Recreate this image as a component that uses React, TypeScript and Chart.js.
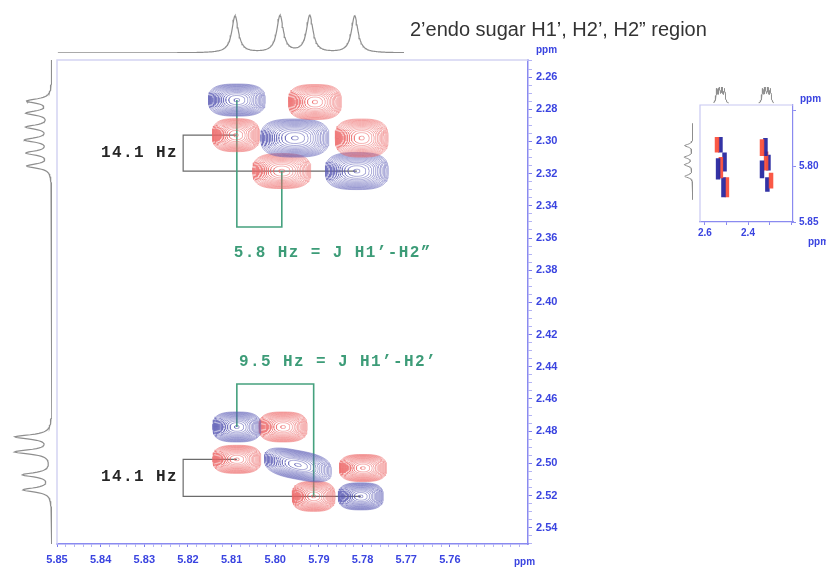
import { useEffect, useRef } from 'react';
import { Chart, registerables } from 'chart.js';

Chart.register(...registerables);

// ---------- main 2D spectrum (H1' along x, H2'/H2'' along y) ----------
const X_MIN = 5.7421;
const X_MAX = 5.85;
const Y_MIN = 2.2494;
const Y_MAX = 2.5501;

const X_TICKS = [5.85, 5.84, 5.83, 5.82, 5.81, 5.8, 5.79, 5.78, 5.77, 5.76];
const Y_TICKS = [2.26, 2.28, 2.3, 2.32, 2.34, 2.36, 2.38, 2.4, 2.42, 2.44, 2.46, 2.48, 2.5, 2.52, 2.54];

// cross peaks: centre (ppm), full width / height (ppm), phase sign, shear
const PEAK_X = [5.8088, 5.7909, 5.809, 5.7955, 5.7802, 5.7985, 5.7813, 5.8088, 5.7982, 5.8088, 5.7948, 5.7799, 5.7912, 5.7804];
const PEAK_Y = [2.2743, 2.2755, 2.2961, 2.2979, 2.2979, 2.3184, 2.3184, 2.4774, 2.4774, 2.4975, 2.501, 2.5029, 2.5205, 2.5205];
const PEAK_W = [0.013, 0.0121, 0.0108, 0.0156, 0.0121, 0.0133, 0.0144, 0.011, 0.011, 0.011, 0.0153, 0.0108, 0.0098, 0.0103];
const PEAK_H = [0.0199, 0.0217, 0.0205, 0.0236, 0.0236, 0.0217, 0.023, 0.0186, 0.0186, 0.0174, 0.018, 0.0168, 0.0186, 0.0168];
const PEAK_SIGN = [-1, 1, 1, -1, 1, 1, -1, -1, 1, 1, -1, 1, 1, -1];
const PEAK_SKEW = [0, 0, 0, 0, 0, 0, 0, 0, 0, 0, 0.5, 0, 0, 0];

// coupling brackets: [from peak, to peak]
const GREEN_LINKS = [[0, 5], [7, 12]];
const GREEN_TURN_Y = [2.3532, 2.4507];
const GRAY_LINKS = [[2, 6], [9, 13]];
const GRAY_TURN_X = 5.8211;

const NOTE_TEXT = ['14.1 Hz', '14.1 Hz', '5.8 Hz = J H1\u2019-H2\u201d', '9.5 Hz = J H1\u2019-H2\u2019'];
const NOTE_X = [5.8399, 5.8399, 5.8095, 5.8083];
const NOTE_Y = [2.3072, 2.5084, 2.3693, 2.437];
const NOTE_COLOR = ['#262626', '#262626', '#3d9c78', '#3d9c78'];

// 1D projections
const TOP_PEAK_PPM = [5.8092, 5.7989, 5.7921, 5.7818];
const TOP_PEAK_INT = [0.9, 0.9, 0.9, 0.9];
const TOP_RANGE = [5.7705, 5.8498];

const LEFT_PEAK_PPM = [2.2749, 2.2824, 2.2911, 2.2991, 2.3072, 2.3153, 2.4836, 2.4929, 2.5071, 2.5165];
const LEFT_PEAK_INT = [0.55, 0.55, 0.55, 0.58, 0.55, 0.55, 0.82, 0.82, 0.64, 0.64];

// ---------- inset (transposed view) ----------
const INSET_X_MIN = 2.191;
const INSET_X_MAX = 2.623;
const INSET_Y_MIN = 5.7455;
const INSET_Y_MAX = 5.85;
const INSET_X_TICKS = [2.6, 2.5, 2.4, 2.3, 2.2];
const INSET_X_LABELS = [2.6, 2.4];
const INSET_Y_TICKS = [5.75, 5.8, 5.85];
const INSET_Y_LABELS = [5.8, 5.85];

const BAR_X = [2.544, 2.528, 2.539, 2.526, 2.509, 2.514, 2.498, 2.335, 2.319, 2.335, 2.316, 2.305, 2.293, 2.31];
const BAR_Y0 = [5.774, 5.774, 5.793, 5.792, 5.788, 5.81, 5.81, 5.776, 5.775, 5.795, 5.787, 5.79, 5.806, 5.81];
const BAR_Y1 = [5.788, 5.788, 5.812, 5.811, 5.805, 5.828, 5.828, 5.791, 5.791, 5.811, 5.804, 5.804, 5.82, 5.823];
const BAR_SIGN = [1, -1, -1, 1, -1, -1, 1, 1, -1, -1, 1, -1, 1, -1];

const INSET_TOP_PPM = [2.545, 2.533, 2.521, 2.509, 2.332, 2.32, 2.308, 2.296];
const INSET_TOP_INT = [0.8, 0.9, 0.85, 0.8, 0.8, 0.9, 0.85, 0.8];
const INSET_LEFT_PPM = [5.7818, 5.7921, 5.7989, 5.8092];
const INSET_LEFT_INT = [0.8, 0.8, 0.8, 0.8];

const AXIS_BLUE = '#3a44e0';
const BLUE_LINE = 'rgba(92,92,182,0.5)';
const RED_LINE = 'rgba(238,104,104,0.5)';

// ---------- helpers ----------
function lorentz(pos: number[], amp: number[], hw: number, v: number) {
  let s = 0;
  for (let i = 0; i < pos.length; i++) {
    const d = (v - pos[i]) / hw;
    s += amp[i] / (1 + d * d);
  }
  return s;
}

function trace(pos: number[], amp: number[], hw: number, from: number, to: number, n: number, vertical: boolean) {
  const pts: { x: number; y: number }[] = [];
  for (let i = 0; i <= n; i++) {
    const v = from + ((to - from) * i) / n;
    const h = Math.min(1, lorentz(pos, amp, hw, v));
    pts.push(vertical ? { x: h, y: v } : { x: v, y: h });
  }
  return pts;
}

// one contour level of a peak, as a closed superellipse
function ring(i: number, s: number) {
  const a = PEAK_W[i] / 2;
  const b = PEAK_H[i] / 2;
  const n = 2 + s * 0.9;
  const pts: { x: number; y: number }[] = [];
  const steps = 72;
  for (let k = 0; k <= steps; k++) {
    const t = (k / steps) * Math.PI * 2;
    const c = Math.cos(t);
    const sn = Math.sin(t);
    const u = Math.sign(c) * Math.pow(Math.abs(c), 2 / n);
    const w = Math.sign(sn) * Math.pow(Math.abs(sn), 2 / n);
    const dx = u * a * s;
    const dy = w * b * s;
    pts.push({ x: PEAK_X[i] + dx, y: PEAK_Y[i] + dy - PEAK_SKEW[i] * dx });
  }
  return pts;
}

function contourDatasets() {
  const sets: any[] = [];
  const levels = 15;
  for (let i = 0; i < PEAK_X.length; i++) {
    for (let k = 0; k < levels; k++) {
      const s = Math.sqrt(1 - (k / (levels - 1)) * (1 - 0.1 * 0.1));
      sets.push({
        data: ring(i, s),
        showLine: true,
        pointRadius: 0,
        borderWidth: 1,
        borderColor: PEAK_SIGN[i] < 0 ? BLUE_LINE : RED_LINE,
        fill: false,
      });
    }
  }
  return sets;
}

function linkDatasets() {
  const sets: any[] = [];
  GREEN_LINKS.forEach(([p, q], j) => {
    sets.push({
      data: [
        { x: PEAK_X[p], y: PEAK_Y[p] },
        { x: PEAK_X[p], y: GREEN_TURN_Y[j] },
        { x: PEAK_X[q], y: GREEN_TURN_Y[j] },
        { x: PEAK_X[q], y: PEAK_Y[q] },
      ],
      showLine: true,
      pointRadius: 0,
      borderWidth: 1.6,
      borderColor: '#45a17e',
    });
  });
  GRAY_LINKS.forEach(([p, q]) => {
    sets.push({
      data: [
        { x: PEAK_X[p], y: PEAK_Y[p] },
        { x: GRAY_TURN_X, y: PEAK_Y[p] },
        { x: GRAY_TURN_X, y: PEAK_Y[q] },
        { x: PEAK_X[q], y: PEAK_Y[q] },
      ],
      showLine: true,
      pointRadius: 0,
      borderWidth: 1.2,
      borderColor: '#6b6b6b',
    });
  });
  return sets;
}

function near(list: number[], v: number) {
  return list.some((t) => Math.abs(t - v) < 1e-6);
}

function minorTicks(lo: number, hi: number, step: number) {
  const out: number[] = [];
  const start = Math.ceil(lo / step - 1e-9);
  for (let k = start; k * step <= hi + 1e-9; k++) out.push(+(k * step).toFixed(4));
  return out;
}

const tickFont = { family: 'Liberation Sans, Arial, sans-serif', size: 11, weight: 'bold' as const };

// ---------- chart configs ----------
const notesPlugin = {
  id: 'notes',
  afterDatasetsDraw(chart: any) {
    const { ctx, scales, chartArea } = chart;
    ctx.save();
    ctx.font = 'bold 16px "Liberation Mono", "Courier New", monospace';
    (ctx as any).letterSpacing = '1.4px';
    ctx.textBaseline = 'middle';
    ctx.textAlign = 'left';
    NOTE_TEXT.forEach((t, i) => {
      ctx.fillStyle = NOTE_COLOR[i];
      ctx.fillText(t, scales.x.getPixelForValue(NOTE_X[i]), scales.y.getPixelForValue(NOTE_Y[i]));
    });
    (ctx as any).letterSpacing = '0px';
    // frame: light top/left edges
    ctx.strokeStyle = '#d4d4f2';
    ctx.lineWidth = 1.5;
    ctx.beginPath();
    ctx.moveTo(chartArea.left, chartArea.bottom);
    ctx.lineTo(chartArea.left, chartArea.top);
    ctx.lineTo(chartArea.right, chartArea.top);
    ctx.stroke();
    // axis unit labels
    ctx.fillStyle = AXIS_BLUE;
    ctx.font = 'bold 10px "Liberation Sans", Arial, sans-serif';
    ctx.textBaseline = 'middle';
    ctx.fillText('ppm', chartArea.right + 8, chartArea.top - 10);
    ctx.fillText('ppm', chartArea.right - 14, chartArea.bottom + 18);
    // title
    ctx.fillStyle = '#333333';
    ctx.font = '20px "Liberation Sans", Arial, sans-serif';
    ctx.fillText('2\u2019endo sugar H1\u2019, H2\u2019, H2\u201d region', 410, 30);
    ctx.restore();
  },
};

function mainConfig(): any {
  return {
    type: 'scatter',
    data: { datasets: [...contourDatasets(), ...linkDatasets()] },
    options: {
      animation: false,
      responsive: false,
      events: [],
      layout: { padding: { left: 57, top: 60, right: 258, bottom: 0 } },
      plugins: { legend: { display: false }, tooltip: { enabled: false } },
      scales: {
        x: {
          type: 'linear',
          min: X_MIN,
          max: X_MAX,
          reverse: true,
          afterBuildTicks: (s: any) => {
            s.ticks = minorTicks(X_MIN, X_MAX, 0.002).map((v) => ({ value: v }));
          },
          afterFit: (s: any) => {
            s.height = 23;
          },
          ticks: {
            autoSkip: false,
            maxRotation: 0,
            color: AXIS_BLUE,
            font: tickFont,
            padding: 6,
            callback: (v: number) => (near(X_TICKS, v) ? v.toFixed(2) : ''),
          },
          grid: {
            drawOnChartArea: false,
            tickLength: 3,
            tickColor: (c: any) => (c.tick && near(X_TICKS, c.tick.value) ? '#7c7cee' : '#b4b4f4'),
          },
          border: { color: '#8a8af0', width: 1.5 },
        },
        y: {
          type: 'linear',
          position: 'right',
          min: Y_MIN,
          max: Y_MAX,
          reverse: true,
          afterBuildTicks: (s: any) => {
            s.ticks = minorTicks(Y_MIN, Y_MAX, 0.005).map((v) => ({ value: v }));
          },
          afterFit: (s: any) => {
            s.width = 40;
          },
          ticks: {
            autoSkip: false,
            color: AXIS_BLUE,
            font: tickFont,
            padding: 4,
            callback: (v: number) => (near(Y_TICKS, v) ? v.toFixed(2) : ''),
          },
          grid: {
            drawOnChartArea: false,
            tickLength: 4,
            tickColor: (c: any) => (c.tick && near(Y_TICKS, c.tick.value) ? '#7c7cee' : '#b4b4f4'),
          },
          border: { color: '#8a8af0', width: 1.5 },
        },
      },
    },
    plugins: [notesPlugin],
  };
}

function projectionConfig(
  datasets: { x: number; y: number }[][],
  xRange: [number, number],
  yRange: [number, number],
  xReverse: boolean,
  yReverse: boolean,
  padding: any,
  width: number
): any {
  return {
    type: 'scatter',
    data: {
      datasets: datasets.map((d) => ({
        data: d,
        showLine: true,
        pointRadius: 0,
        borderWidth: width,
        borderColor: '#8e8e8e',
      })),
    },
    options: {
      animation: false,
      responsive: false,
      events: [],
      layout: { padding },
      plugins: { legend: { display: false }, tooltip: { enabled: false } },
      scales: {
        x: { type: 'linear', display: false, min: xRange[0], max: xRange[1], reverse: xReverse },
        y: { type: 'linear', display: false, min: yRange[0], max: yRange[1], reverse: yReverse },
      },
    },
  };
}

const insetUnitsPlugin = {
  id: 'insetUnits',
  afterDraw(chart: any) {
    const { ctx, chartArea } = chart;
    ctx.save();
    ctx.strokeStyle = '#c8c8f2';
    ctx.lineWidth = 1.2;
    ctx.beginPath();
    ctx.moveTo(chartArea.left, chartArea.bottom);
    ctx.lineTo(chartArea.left, chartArea.top);
    ctx.lineTo(chartArea.right, chartArea.top);
    ctx.stroke();
    ctx.fillStyle = AXIS_BLUE;
    ctx.font = 'bold 10px "Liberation Sans", Arial, sans-serif';
    ctx.textBaseline = 'middle';
    ctx.textAlign = 'left';
    ctx.fillText('ppm', chartArea.right + 7, chartArea.top - 6);
    ctx.fillText('ppm', chartArea.right + 15, chartArea.bottom + 20);
    ctx.restore();
  },
};

function insetConfig(): any {
  return {
    type: 'scatter',
    data: {
      datasets: BAR_X.map((x, i) => ({
        data: [
          { x, y: BAR_Y0[i] },
          { x, y: BAR_Y1[i] },
        ],
        showLine: true,
        pointRadius: 0,
        borderWidth: 4.5,
        borderCapStyle: 'butt',
        borderColor: BAR_SIGN[i] > 0 ? 'rgba(250,80,60,0.95)' : 'rgba(40,40,160,0.95)',
      })),
    },
    options: {
      animation: false,
      responsive: false,
      events: [],
      layout: { padding: { left: 20, top: 35, right: 0, bottom: 0 } },
      plugins: { legend: { display: false }, tooltip: { enabled: false } },
      scales: {
        x: {
          type: 'linear',
          min: INSET_X_MIN,
          max: INSET_X_MAX,
          reverse: true,
          afterBuildTicks: (s: any) => {
            s.ticks = INSET_X_TICKS.map((v) => ({ value: v }));
          },
          afterFit: (s: any) => {
            s.height = 28;
          },
          ticks: {
            autoSkip: false,
            maxRotation: 0,
            color: AXIS_BLUE,
            font: { ...tickFont, size: 10 },
            padding: 2,
            callback: (v: number) => (near(INSET_X_LABELS, v) ? v.toFixed(1) : ''),
          },
          grid: { drawOnChartArea: false, tickLength: 3, tickColor: '#8a8af0' },
          border: { color: '#8a8af0', width: 1.2 },
        },
        y: {
          type: 'linear',
          position: 'right',
          min: INSET_Y_MIN,
          max: INSET_Y_MAX,
          reverse: true,
          afterBuildTicks: (s: any) => {
            s.ticks = INSET_Y_TICKS.map((v) => ({ value: v }));
          },
          afterFit: (s: any) => {
            s.width = 33;
          },
          ticks: {
            autoSkip: false,
            color: AXIS_BLUE,
            font: { ...tickFont, size: 10 },
            padding: 3,
            callback: (v: number) => (near(INSET_Y_LABELS, v) ? v.toFixed(2) : ''),
          },
          grid: { drawOnChartArea: false, tickLength: 3, tickColor: '#8a8af0' },
          border: { color: '#8a8af0', width: 1.2 },
        },
      },
    },
    plugins: [insetUnitsPlugin],
  };
}

function ChartBox(props: { make: () => any; left: number; top: number; width: number; height: number }) {
  const ref = useRef<HTMLCanvasElement>(null);
  useEffect(() => {
    const chart = new Chart(ref.current as HTMLCanvasElement, props.make());
    return () => chart.destroy();
  }, []);
  return (
    <canvas
      ref={ref}
      width={props.width}
      height={props.height}
      style={{ position: 'absolute', left: props.left, top: props.top, width: props.width, height: props.height }}
    />
  );
}

export default function App() {
  return (
    <div style={{ position: 'fixed', left: 0, top: 0, width: 826, height: 567, background: '#ffffff', overflow: 'hidden' }}>
      <ChartBox make={mainConfig} left={0} top={0} width={826} height={567} />
      <ChartBox
        make={() =>
          projectionConfig(
            [trace(TOP_PEAK_PPM, TOP_PEAK_INT, 0.0009, TOP_RANGE[0], TOP_RANGE[1], 500, false)],
            [X_MIN, X_MAX],
            [0, 1],
            true,
            false,
            { left: 57, right: 72, top: 12, bottom: 6 },
            1.2
          )
        }
        left={0}
        top={0}
        width={600}
        height={59}
      />
      <ChartBox
        make={() =>
          projectionConfig(
            [trace(LEFT_PEAK_PPM, LEFT_PEAK_INT, 0.0016, Y_MIN, Y_MAX, 700, true)],
            [0, 1],
            [Y_MIN, Y_MAX],
            true,
            true,
            { left: 8, right: 5, top: 0, bottom: 0 },
            1.2
          )
        }
        left={0}
        top={60}
        width={57}
        height={484}
      />
      <ChartBox make={insetConfig} left={680} top={70} width={146} height={180} />
      <ChartBox
        make={() =>
          projectionConfig(
            [
              trace(INSET_TOP_PPM.slice(0, 4), INSET_TOP_INT.slice(0, 4), 0.004, 2.49, 2.56, 120, false),
              trace(INSET_TOP_PPM.slice(4), INSET_TOP_INT.slice(4), 0.004, 2.28, 2.35, 120, false),
            ],
            [INSET_X_MIN, INSET_X_MAX],
            [0, 1],
            true,
            false,
            { left: 0, right: 0, top: 2, bottom: 1 },
            1
          )
        }
        left={700}
        top={85}
        width={93}
        height={20}
      />
      <ChartBox
        make={() =>
          projectionConfig(
            [trace(INSET_LEFT_PPM, INSET_LEFT_INT, 0.0015, 5.762, 5.83, 160, true)],
            [0, 1],
            [INSET_Y_MIN, INSET_Y_MAX],
            true,
            true,
            { left: 3, right: 7, top: 0, bottom: 0 },
            1
          )
        }
        left={680}
        top={105}
        width={20}
        height={117}
      />
    </div>
  );
}
